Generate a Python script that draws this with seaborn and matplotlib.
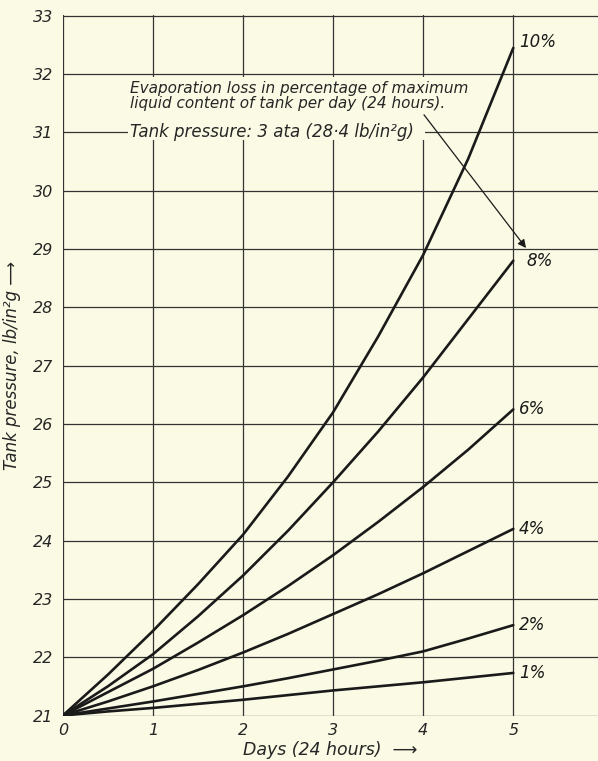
import matplotlib
matplotlib.use("Agg")
import matplotlib.pyplot as plt
from matplotlib.patches import Rectangle
import pandas as pd
import seaborn as sns

# valores (presion del tanque, lb/in2g)
days = [0, 0.5, 1, 1.5, 2, 2.5, 3, 3.5, 4, 4.5, 5]
loss_10 = [21, 21.7, 22.45, 23.25, 24.1, 25.1, 26.2, 27.5, 28.9, 30.55, 32.45]
loss_8 = [21, 21.5, 22.05, 22.7, 23.4, 24.17, 25.0, 25.87, 26.8, 27.8, 28.8]
loss_6 = [21, 21.4, 21.8, 22.25, 22.72, 23.22, 23.75, 24.32, 24.92, 25.56, 26.25]
loss_4 = [21, 21.24, 21.5, 21.78, 22.08, 22.4, 22.74, 23.08, 23.44, 23.82, 24.2]
loss_2 = [21, 21.12, 21.24, 21.37, 21.5, 21.64, 21.79, 21.94, 22.1, 22.32, 22.55]
loss_1 = [21, 21.07, 21.13, 21.2, 21.27, 21.35, 21.43, 21.5, 21.57, 21.65, 21.73]
labels = ["10%", "8%", "6%", "4%", "2%", "1%"]
y_ticks = list(range(21, 34))
x_ticks = [0, 1, 2, 3, 4, 5]

series = [loss_10, loss_8, loss_6, loss_4, loss_2, loss_1]
df = pd.concat(
    [pd.DataFrame({"day": days, "pressure": s, "loss": lab}) for s, lab in zip(series, labels)],
    ignore_index=True,
)

bg = "#FBFAE4"
ink = "#1a1a1a"

sns.set_style("white")
plt.rcParams["font.family"] = ["DejaVu Sans"]
plt.rcParams["font.style"] = "italic"

fig = plt.figure(figsize=(5.98, 7.61), dpi=100, facecolor=bg)
ax = fig.add_axes([0.105, 0.059, 0.895, 0.921])
ax.set_facecolor(bg)

sns.lineplot(data=df, x="day", y="pressure", hue="loss", palette=[ink] * 6,
             linewidth=1.9, legend=False, ax=ax, zorder=3)

ax.set_xlim(0, 5.94)
ax.set_ylim(20.99, 33.01)
ax.set_xticks(x_ticks)
ax.set_yticks(y_ticks)
ax.grid(True, color="#333333", linewidth=0.9)
for s in ax.spines.values():
    s.set_visible(False)
ax.tick_params(axis="both", length=6, width=0.9, color="#333333", labelsize=11.5, pad=1)
ax.tick_params(axis="x", length=3, pad=2)

for s, lab in zip(series, labels):
    xl = 5.15 if lab == "8%" else 5.06
    dy = 0.1 if lab == "10%" else 0
    ax.text(xl, s[-1] + dy, lab, fontsize=12, va="center", ha="left", color=ink, style="italic")

ax.set_xlabel("Days (24 hours)  \u27f6", fontsize=12.5, labelpad=2, style="italic")
ax.set_ylabel("Tank pressure, lb/in\u00b2g \u27f6", fontsize=12, labelpad=2, style="italic")
ax.yaxis.set_label_coords(-0.078, 0.5)

# hueco en la cuadricula detras del texto
ax.add_patch(Rectangle((0.72, 30.87), 3.3, 1.08, facecolor=bg, edgecolor="none", zorder=1))
ax.text(0.75, 31.63, "Evaporation loss in percentage of maximum\nliquid content of tank per day (24 hours).",
        fontsize=11, ha="left", va="center", linespacing=1.0, zorder=2, style="italic")
ax.text(0.75, 31.0, "Tank pressure: 3 ata (28\u00b74 lb/in\u00b2g)",
        fontsize=12, ha="left", va="center", zorder=2, style="italic")
ax.annotate("", xy=(5.16, 28.98), xytext=(3.99, 31.34),
            arrowprops=dict(arrowstyle="-|>", color=ink, lw=0.9, mutation_scale=12), zorder=4)

fig.savefig("out.png", dpi=100, facecolor=bg)
